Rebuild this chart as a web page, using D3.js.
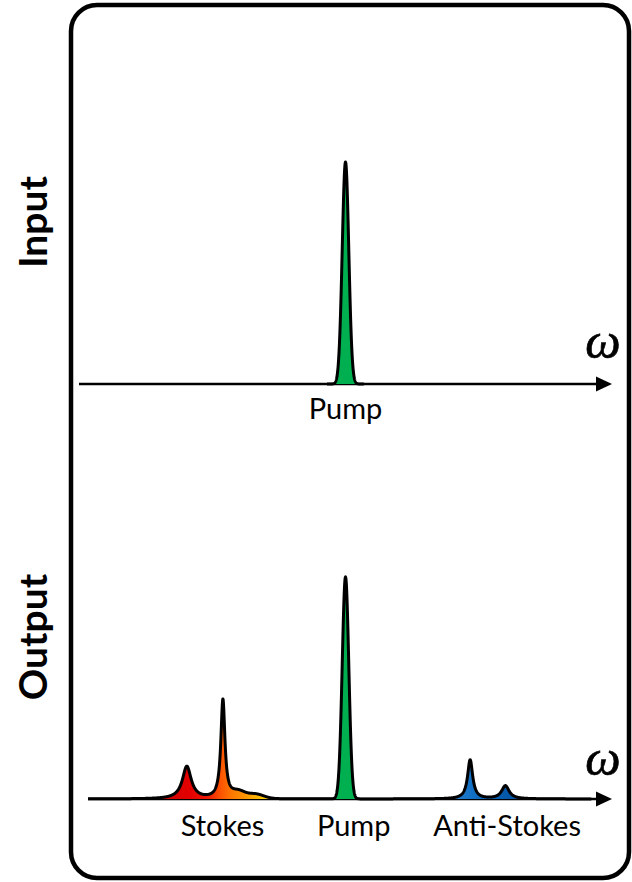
<!DOCTYPE html>
<html>
<head>
<meta charset="utf-8">
<script src="https://cdn.jsdelivr.net/npm/d3@7"></script>
<style>
  html, body { margin: 0; padding: 0; background: #fff; }
  svg { display: block; }
</style>
</head>
<body>
<svg id="chart" width="632" height="882"></svg>
<script>
// ---------------- DATA ----------------
// frequency shift relative to the pump (arbitrary units), amplitude relative to pump
const panelNames = ["Input", "Output"];

const inputPeakPos   = [0];
const inputPeakAmp   = [1.0];
const inputPeakWidth = [0.08];
const inputPeakShape = ["G"];
const inputPeakBand  = ["Pump"];

const outputPeakPos   = [-3.87, -2.99, -2.62, -2.2, 0, 3.04, 3.9];
const outputPeakAmp   = [0.146, 0.446, 0.028, 0.02, 1.0, 0.176, 0.059];
const outputPeakWidth = [0.13, 0.06, 0.16, 0.2, 0.08, 0.075, 0.11];
const outputPeakShape = ["L", "L", "G", "G", "G", "L", "L"];
const outputPeakBand  = ["Stokes", "Stokes", "Stokes", "Stokes", "Pump", "Anti-Stokes", "Anti-Stokes"];

const bandNames  = ["Stokes", "Pump", "Anti-Stokes"];
const bandRanges = [[-4.7, -1.5], [-0.7, 0.7], [2.2, 4.7]];

const inputLabels   = ["Pump"];
const inputLabelPos = [0];
const outputLabels   = ["Stokes", "Pump", "Anti-Stokes"];
const outputLabelPos = [-3.0, 0.2, 3.94];

const axisSymbol = "ω";

// ---------------- LAYOUT ----------------
const svg = d3.select("#chart");

const x = d3.scaleLinear().domain([-6.5, 6.5]).range([79, 612]);
const panels = [
  { name: panelNames[0], base: 384, axisStart: 79, labelY: 222, nameSize: 39,
    pos: inputPeakPos, amp: inputPeakAmp, wid: inputPeakWidth, shape: inputPeakShape, band: inputPeakBand,
    labels: inputLabels, labelPos: inputLabelPos, labelBase: 419, omegaBase: 358, curveRange: [-0.45, 0.45] },
  { name: panelNames[1], base: 799, axisStart: 88, labelY: 637, nameSize: 39,
    pos: outputPeakPos, amp: outputPeakAmp, wid: outputPeakWidth, shape: outputPeakShape, band: outputPeakBand,
    labels: outputLabels, labelPos: outputLabelPos, labelBase: 836, omegaBase: 775, curveRange: [-6.28, 6.0] }
];

// gradients
const defs = svg.append("defs");
const gS = defs.append("linearGradient").attr("id", "gradStokes")
  .attr("gradientUnits", "userSpaceOnUse").attr("x1", 165).attr("x2", 276).attr("y1", 0).attr("y2", 0);
[[0, "#d80000"], [0.22, "#e20000"], [0.38, "#ee1800"], [0.5, "#fb5200"], [0.6, "#ff7800"],
 [0.72, "#ff9400"], [0.86, "#ffc000"], [1, "#ffff00"]]
  .forEach(s => gS.append("stop").attr("offset", s[0]).attr("stop-color", s[1]));
const gA = defs.append("linearGradient").attr("id", "gradAnti")
  .attr("gradientUnits", "userSpaceOnUse").attr("x1", 445).attr("x2", 520).attr("y1", 0).attr("y2", 0);
[[0, "#2b84d6"], [0.5, "#0a68bc"], [1, "#00509c"]]
  .forEach(s => gA.append("stop").attr("offset", s[0]).attr("stop-color", s[1]));

const bandFill = { "Stokes": "url(#gradStokes)", "Pump": "#00b050", "Anti-Stokes": "url(#gradAnti)" };

// outer rounded frame
svg.append("rect")
  .attr("x", 71).attr("y", 5).attr("width", 558).attr("height", 873)
  .attr("rx", 26).attr("ry", 26)
  .attr("fill", "none").attr("stroke", "#000").attr("stroke-width", 4.5);

function profile(p, xv) {
  let s = 0;
  for (let i = 0; i < p.pos.length; i++) {
    const d = xv - p.pos[i], w = p.wid[i];
    if (p.shape[i] === "G") s += p.amp[i] * Math.exp(-d * d / (2 * w * w));
    else s += p.amp[i] * (w * w) / (d * d + w * w);
  }
  return s;
}

panels.forEach(p => {
  const y = d3.scaleLinear().domain([0, 1]).range([p.base, p.base - 222]);
  const g = svg.append("g");

  // axis line + arrow
  g.append("line")
    .attr("x1", p.axisStart).attr("x2", 599).attr("y1", p.base).attr("y2", p.base)
    .attr("stroke", "#000").attr("stroke-width", 2.5);
  g.append("path")
    .attr("d", `M596,${p.base - 7.5} L612,${p.base} L596,${p.base + 7.5} Z`)
    .attr("fill", "#000");

  // filled bands
  bandNames.forEach((b, bi) => {
    if (!p.band.includes(b)) return;
    const r = bandRanges[bi];
    const xs = d3.range(r[0], r[1], 0.004);
    const area = d3.area()
      .x(d => x(d)).y0(y(0)).y1(d => y(profile(p, d)));
    g.append("path").datum(xs).attr("d", area).attr("fill", bandFill[b]);
  });

  // outline of the spectrum
  const xsAll = d3.range(p.curveRange[0], p.curveRange[1], 0.004);
  const line = d3.line().x(d => x(d)).y(d => y(profile(p, d)));
  g.append("path").datum(xsAll).attr("d", line)
    .attr("fill", "none").attr("stroke", "#000").attr("stroke-width", 3)
    .attr("stroke-linejoin", "round");

  // omega symbol
  g.append("text")
    .attr("x", 603).attr("y", p.omegaBase)
    .attr("text-anchor", "middle")
    .attr("font-family", "'Liberation Serif', 'Times New Roman', serif")
    .attr("font-style", "italic").attr("font-size", 50)
    .attr("stroke", "#000").attr("stroke-width", 0.7)
    .text(axisSymbol);

  // band labels
  p.labels.forEach((t, i) => {
    g.append("text")
      .attr("x", x(p.labelPos[i])).attr("y", p.labelBase)
      .attr("text-anchor", "middle")
      .attr("font-family", "Lato, 'Open Sans', sans-serif")
      .attr("font-size", 29)
      .text(t);
  });

  // panel name (rotated)
  g.append("text")
    .attr("transform", `translate(47,${p.labelY}) rotate(-90)`)
    .attr("text-anchor", "middle")
    .attr("font-family", "Lato, 'Open Sans', sans-serif")
    .attr("font-weight", "bold").attr("font-size", p.nameSize)
    .text(p.name);
});
</script>
</body>
</html>
